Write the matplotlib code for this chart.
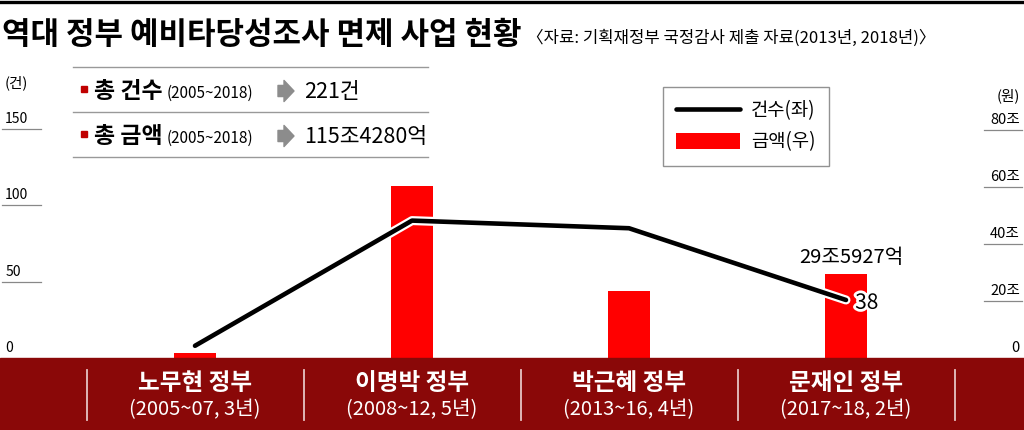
import matplotlib
matplotlib.use("Agg")
import matplotlib.pyplot as plt
import matplotlib.patheffects as pe
from matplotlib.patches import Rectangle
from matplotlib.lines import Line2D
from matplotlib.transforms import blended_transform_factory

plt.rcParams['font.family'] = ['Noto Sans CJK KR', 'DejaVu Sans']

# data
govs = ['노무현 정부', '이명박 정부', '박근혜 정부', '문재인 정부']
periods = ['(2005~07, 3년)', '(2008~12, 5년)', '(2013~16, 4년)', '(2017~18, 2년)']
counts = [8, 90, 85, 38]               # 건수 (left axis)
amounts = [1.9, 60.3, 23.6, 29.6]      # 금액, 조원 (right axis)
left_ticks = [0, 50, 100, 150]
right_ticks = [0, 20, 40, 60, 80]
right_labels = ['0', '20조', '40조', '60조', '80조']

W, H = 1024, 430
fig = plt.figure(figsize=(W / 100, H / 100), dpi=100)


def fx(px):
    return px / W


def fy(py):
    return 1 - py / H


# axes: x=0 maps to 195px, one category = 217px
x = list(range(len(govs)))
ax = fig.add_axes([0, fy(358), 1, (358 - 60) / H])
ax2 = ax.twinx()
for a in (ax, ax2):
    a.set_xlim(-195 / 217, (W - 195) / 217)
    for s in a.spines.values():
        s.set_visible(False)
    a.set_xticks([])
    a.set_yticks([])
ax.set_ylim(0, 150 * 298 / 229)
ax2.set_ylim(0, 80 * 298 / 228)
ax.set_zorder(2)
ax2.set_zorder(1)
ax.patch.set_visible(False)

bars = ax2.bar(x, amounts, width=0.19, color='#ff0000', zorder=2)
line, = ax.plot(x, counts, color='black', lw=3.3, solid_capstyle='round',
                path_effects=[pe.Stroke(linewidth=6.5, foreground='white'), pe.Normal()])

# tick labels with small underlines
tl = blended_transform_factory(ax.transAxes, ax.transData)
for v in left_ticks:
    ax.text(0.005, v + 2, str(v), transform=tl, fontsize=10, va='bottom', ha='left')
    if v > 0:
        ax.plot([0.002, 0.04], [v, v], transform=tl, color='#888888', lw=0.9)
tr = blended_transform_factory(ax2.transAxes, ax2.transData)
for v, lab in zip(right_ticks, right_labels):
    ax2.text(0.996, v + 1, lab, transform=tr, fontsize=10.5, va='bottom', ha='right')
    if v > 0:
        ax2.plot([0.961, 0.998], [v, v], transform=tr, color='#888888', lw=0.9)

fig.text(fx(5), fy(83), '(건)', fontsize=10.5, va='center', ha='left')
fig.text(fx(1020), fy(96), '(원)', fontsize=10.5, va='center', ha='right')

# annotations
ax2.annotate('29조5927억', (x[3], amounts[3]), xytext=(4, 4), textcoords='offset points',
             ha='center', va='bottom', fontsize=14.5)
ax.annotate(str(counts[3]), (x[3], counts[3]), xytext=(15, -2), textcoords='offset points',
            ha='center', va='center', fontsize=15,
            path_effects=[pe.Stroke(linewidth=4, foreground='white'), pe.Normal()])

# title
fig.add_artist(Line2D([0, 1], [fy(1.5), fy(1.5)], color='black', lw=2.4))
fig.text(fx(2), fy(35), '역대 정부 예비타당성조사 면제 사업 현황', fontsize=22.3,
         fontweight='heavy', va='center', ha='left')
fig.text(fx(527), fy(38), '〈자료: 기획재정부 국정감사 제출 자료(2013년, 2018년)〉',
         fontsize=12, va='center', ha='left')

# summary box
for yy in (67, 112, 157):
    fig.add_artist(Line2D([fx(73), fx(428)], [fy(yy), fy(yy)], color='#999999', lw=1))
rows = [('총 건수', '221건', 98), ('총 금액', '115조4280억', 143)]
for big, val, base in rows:
    fig.add_artist(Rectangle((fx(81), fy(base - 6)), 6 / W, 6 / H, color='#c00000',
                             transform=fig.transFigure))
    fig.text(fx(94), fy(base), big, fontsize=16.5, fontweight='bold', va='baseline')
    fig.text(fx(167), fy(base), '(2005~2018)', fontsize=11, va='baseline')
    ax.annotate('', xy=(294, H - base + 7), xytext=(278, H - base + 7),
                xycoords='figure pixels', textcoords='figure pixels', annotation_clip=False,
                arrowprops=dict(arrowstyle='simple,head_length=0.45,head_width=0.95,tail_width=0.5',
                                mutation_scale=16, color='#8c8c8c', shrinkA=0, shrinkB=0))
    fig.text(fx(304), fy(base), val, fontsize=15.5, va='baseline')

# legend
fig.legend([line, bars], ['건수(좌)', '금액(우)'], loc='upper left',
           bbox_to_anchor=(fx(663), fy(87)), borderaxespad=0, fontsize=13.5,
           frameon=True, fancybox=False, edgecolor='#777777', handlelength=3.4,
           handleheight=0.9, borderpad=0.7, labelspacing=0.55, handletextpad=0.6)

# bottom band
fig.add_artist(Rectangle((0, 0), 1, 72 / H, color='#8a0808', transform=fig.transFigure, zorder=3))
to = blended_transform_factory(ax.transData, fig.transFigure)
for i in range(len(govs) + 1):
    fig.add_artist(Line2D([i - 0.5, i - 0.5], [fy(420), fy(370)], transform=to,
                          color='#e6c4c4', lw=1.3, zorder=4))
for i, (g, p) in enumerate(zip(govs, periods)):
    fig.text(i, fy(383), g, transform=to, color='white', fontsize=17, fontweight='heavy',
             ha='center', va='center', zorder=4)
    fig.text(i, fy(410), p, transform=to, color='white', fontsize=14.5,
             ha='center', va='center', zorder=4)

fig.savefig('out.png', dpi=100)
